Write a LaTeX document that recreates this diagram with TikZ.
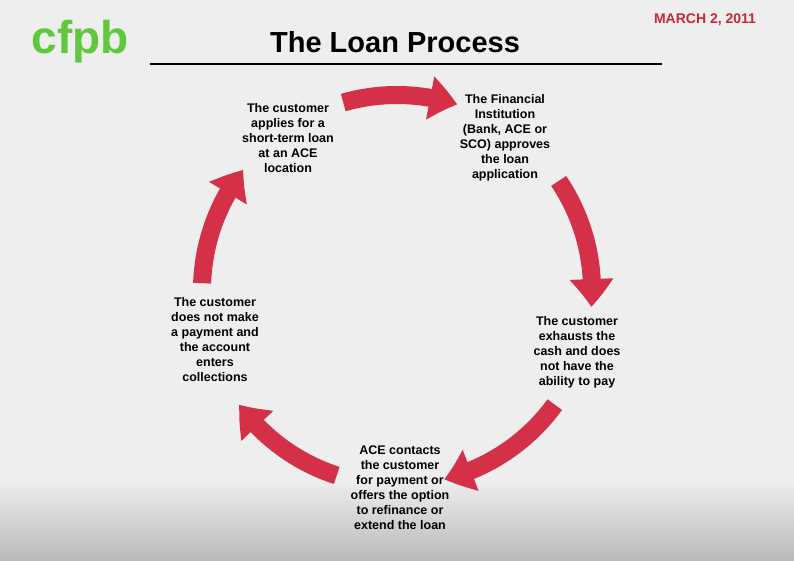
\documentclass[tikz,border=0pt]{standalone}
\usepackage{fontspec}
\setmainfont{Liberation Sans}
\usetikzlibrary{arrows.meta,bending}
\definecolor{loanred}{RGB}{212,48,72}
\definecolor{cfpbgreen}{RGB}{96,200,60}
\definecolor{datered}{RGB}{200,40,50}
\definecolor{bggray}{RGB}{238,238,238}
\tikzset{
  stepnode/.style={align=center,font=\bfseries\fontsize{12.5}{15}\selectfont},
  cyclearrow/.style={loanred,line width=18pt,-{Triangle[bend,width=42pt,length=28pt]}}
}
\begin{document}
\begin{tikzpicture}[x=1pt,y=-1pt]
\fill[bggray] (0,0) rectangle (794,561);
\shade[top color=bggray,bottom color=gray!55] (0,480) rectangle (794,561);
\useasboundingbox (0,0) rectangle (794,561);
% header
\node[font=\bfseries\fontsize{46}{46}\selectfont,text=cfpbgreen] (logo) at (80,42) {cfpb};
\node[font=\bfseries\fontsize{29}{29}\selectfont] (title) at (395,42) {The Loan Process};
\coordinate (ruleL) at (150,64);
\coordinate (ruleR) at (662,64);
\draw[line width=2.5pt] (ruleL) -- (ruleR);
\node[font=\bfseries\fontsize{14}{14}\selectfont,text=datered] (date) at (705,20) {MARCH 2, 2011};
% steps
\node[stepnode] (apply) at (288,138) {The customer\\applies for a\\short-term loan\\at an ACE\\location};
\node[stepnode] (approve) at (505,138) {The Financial\\Institution\\(Bank, ACE or\\SCO) approves\\the loan\\application};
\node[stepnode] (exhaust) at (577,352) {The customer\\exhausts the\\cash and does\\not have the\\ability to pay};
\node[stepnode] (contact) at (400,488) {ACE contacts\\the customer\\for payment or\\offers the option\\to refinance or\\extend the loan};
\node[stepnode] (collect) at (215,340) {The customer\\does not make\\a payment and\\the account\\enters\\collections};
% arrows on the cycle
\foreach \a/\b in {106/72, 34/-5, -36/-76, -108/-144, 178/142}
  \draw[cyclearrow] ({397+195*cos(\a)},{290-195*sin(\a)}) arc[start angle=-\a,end angle=-\b,radius=195];
\end{tikzpicture}
\end{document}
